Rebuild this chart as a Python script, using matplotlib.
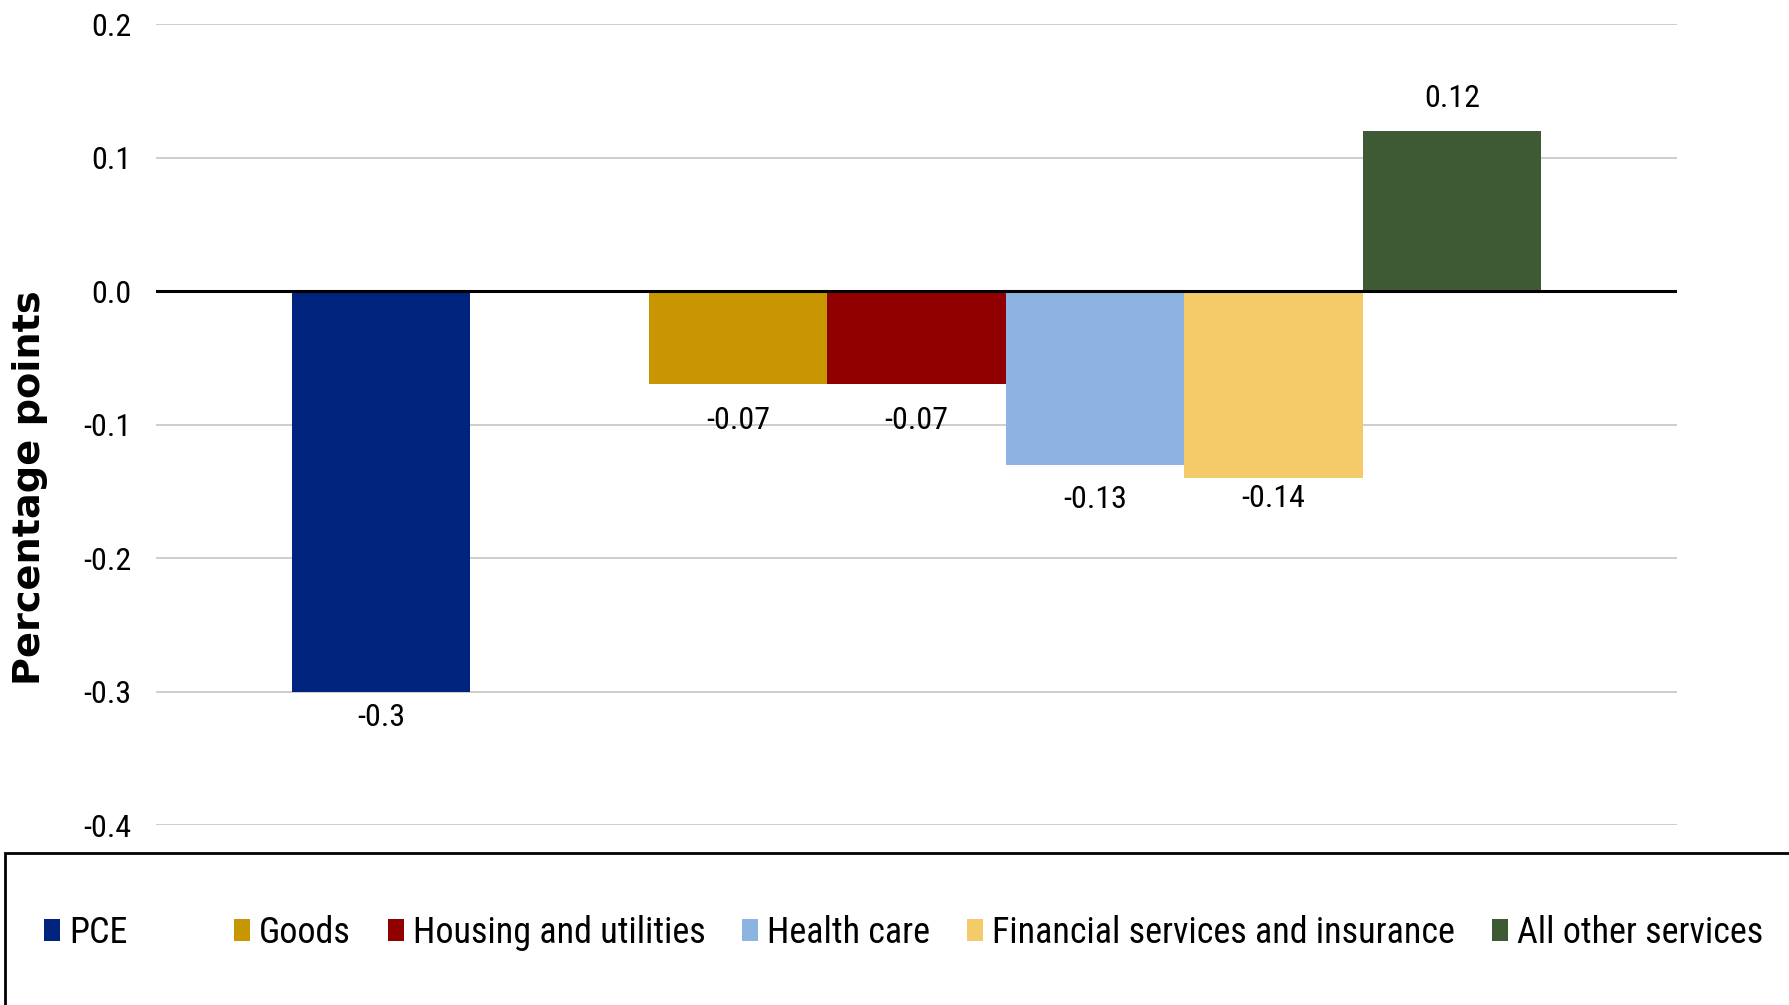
import matplotlib
matplotlib.use("Agg")
import matplotlib.pyplot as plt
from matplotlib.patches import Rectangle, Patch
from matplotlib.ticker import FuncFormatter

# Contributions to the change in PCE inflation, percentage points
series = ["PCE", "Goods", "Housing and utilities", "Health care",
          "Financial services and insurance", "All other services"]
values = [-0.3, -0.07, -0.07, -0.13, -0.14, 0.12]
value_labels = ["-0.3", "-0.07", "-0.07", "-0.13", "-0.14", "0.12"]
colors = ["#00247D", "#C89600", "#910000", "#8DB3E2", "#F5CB6A", "#3E5A35"]
y_ticks = [-0.4, -0.3, -0.2, -0.1, 0.0, 0.1, 0.2]

# one empty slot separates headline PCE from its components
slots = [0, 2, 3, 4, 5, 6]
label_offsets_pt = [19, 26, 26, 25, 15, 23]

plt.rcParams["axes.unicode_minus"] = False
plt.rcParams["font.family"] = ["Roboto Condensed", "DejaVu Sans"]

fig = plt.figure(figsize=(17.89, 10.05), dpi=100)
ax = fig.add_axes([0.0872, 0.1791, 0.8502, 0.7970])

bars = ax.bar(slots, values, width=1.0, color=colors, zorder=3)

for bar, v, txt, off in zip(bars, values, value_labels, label_offsets_pt):
    x = bar.get_x() + bar.get_width() / 2
    dy = off if v >= 0 else -off
    ax.annotate(txt, xy=(x, v), xytext=(0, dy), textcoords="offset points",
                ha="center", va="center", fontsize=23, color="black")

ax.set_xlim(-1.26, 7.26)
ax.set_ylim(-0.4, 0.2)
ax.set_yticks(y_ticks)
ax.yaxis.set_major_formatter(FuncFormatter(lambda v, p: f"{v:.1f}"))
ax.set_xticks([])
ax.tick_params(axis="y", length=0, pad=18, labelsize=23)
ax.grid(axis="y", color="#c9c9c9", linewidth=1.3, zorder=0)
ax.axhline(0, color="black", linewidth=2.2, zorder=4)
for s in ax.spines.values():
    s.set_visible(False)

fig.text(0.0165, 0.5146, "Percentage points", rotation=90, ha="center",
         va="center", fontsize=27.5, fontweight="bold", family="DejaVu Sans")

# legend frame running off the bottom-right of the figure
fig.patches.append(Rectangle((0.0028, -0.05), 1.1, 0.2012,
                             transform=fig.transFigure, fill=False,
                             edgecolor="black", linewidth=2, zorder=0))

handles = [Patch(facecolor=c, edgecolor="none") for c in colors]
labels = list(series)
handles.insert(1, Patch(facecolor="none", edgecolor="none"))
labels.insert(1, " ")
fig.legend(handles, labels, loc="center left", bbox_to_anchor=(0.0246, 0.072),
           ncol=7, frameon=False, prop={"size": 26},
           handlelength=0.44, handleheight=0.55, handletextpad=0.25,
           columnspacing=1.02, borderaxespad=0, borderpad=0)

fig.savefig("out.png", dpi=100)
